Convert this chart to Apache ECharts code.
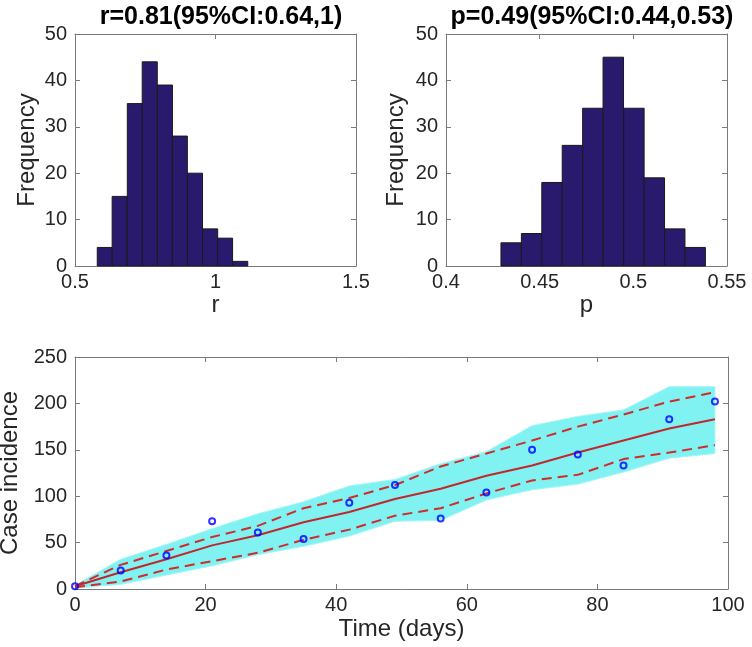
<!DOCTYPE html>
<html>
<head>
<meta charset="utf-8">
<script src="https://cdn.jsdelivr.net/npm/echarts@6/dist/echarts.min.js"></script>
<style>html,body{margin:0;padding:0;background:#fff}#c{width:752px;height:647px}</style>
</head>
<body>
<div id="c"></div>
<script>
// ---- data ----
const rTitle = 'r=0.81(95%CI:0.64,1)';
const pTitle = 'p=0.49(95%CI:0.44,0.53)';
const rBinCenters = [0.606, 0.659, 0.713, 0.766, 0.820, 0.873, 0.927, 0.981, 1.034, 1.088];
const rCounts     = [4, 15, 35, 44, 39, 28, 20, 8, 6, 1];
const rBinWidth   = 0.0536;
const pBinCenters = [0.4348, 0.4457, 0.4566, 0.4675, 0.4784, 0.4893, 0.5003, 0.5112, 0.5221, 0.5330];
const pCounts     = [5, 7, 18, 26, 34, 45, 34, 19, 8, 4];
const pBinWidth   = 0.01092;

const days      = [0, 7, 14, 21, 28, 35, 42, 49, 56, 63, 70, 77, 84, 91, 98];
const observed  = [3, 20, 36, 73, 61, 54, 93, 112, 76, 104, 150, 145, 133, 183, 202];
const meanFit   = [3, 18, 32, 47, 58, 72, 83, 97, 108, 122, 133, 147, 160, 173, 183];
const upper95   = [3, 26, 41, 56, 68, 87, 98, 112, 132, 146, 160, 175, 188, 202, 212];
const lower95   = [2, 8, 21, 30, 39, 53, 64, 79, 87, 103, 117, 123, 140, 147, 155];
const simMax    = [4, 32, 48, 65, 81, 94, 111, 118, 135, 148, 176, 186, 193, 218, 218];
const simMin    = [1, 5, 15, 25, 37, 46, 57, 73, 74, 96, 107, 113, 126, 141, 146];

const rTicks = {min: 0.5, max: 1.5, interval: 0.5};
const pTicks = {min: 0.4, max: 0.55, interval: 0.05};
const freqTicks = {min: 0, max: 50, interval: 10};
const dayTicks = {min: 0, max: 100, interval: 20};
const caseTicks = {min: 0, max: 250, interval: 50};

// ---- styling ----
const FONT = '"Liberation Sans", Arial, Helvetica, sans-serif';
const AXC = '#7a7a7a';
const TXT = '#262626';

function pairX(gridIndex, ticks, name, nameGap, fmt) {
  const base = {
    gridIndex, type: 'value', min: ticks.min, max: ticks.max, interval: ticks.interval,
    splitLine: {show: false},
    axisLine: {show: true, onZero: false, lineStyle: {color: AXC, width: 1}},
    axisTick: {show: true, inside: true, length: 5, lineStyle: {color: AXC}}
  };
  return [
    Object.assign({}, base, {
      position: 'bottom', name, nameLocation: 'middle', nameGap,
      nameTextStyle: {fontSize: 24, color: TXT, fontFamily: FONT},
      axisLabel: {show: true, margin: 6, fontSize: 20, color: TXT, fontFamily: FONT,
        showMinLabel: true, showMaxLabel: true, formatter: fmt}
    }),
    Object.assign({}, base, {position: 'top', axisLabel: {show: false}})
  ];
}
function pairY(gridIndex, ticks, name, nameGap) {
  const base = {
    gridIndex, type: 'value', min: ticks.min, max: ticks.max, interval: ticks.interval,
    splitLine: {show: false},
    axisLine: {show: true, onZero: false, lineStyle: {color: AXC, width: 1}},
    axisTick: {show: true, inside: true, length: 5, lineStyle: {color: AXC}}
  };
  return [
    Object.assign({}, base, {
      position: 'left', name, nameLocation: 'middle', nameGap, nameRotate: 90,
      nameTextStyle: {fontSize: 24, color: TXT, fontFamily: FONT},
      axisLabel: {show: true, margin: 8, fontSize: 20, color: TXT, fontFamily: FONT,
        showMinLabel: true, showMaxLabel: true}
    }),
    Object.assign({}, base, {position: 'right', axisLabel: {show: false}})
  ];
}
const fmt2 = v => String(+v.toFixed(2));

function histSeries(centers, counts, width, xi, yi) {
  return {
    type: 'custom', xAxisIndex: xi, yAxisIndex: yi,
    data: centers.map((c, i) => [c, counts[i]]),
    encode: {x: 0, y: 1},
    renderItem: function (params, api) {
      const c = api.value(0), h = api.value(1);
      const p0 = api.coord([c - width / 2, h]);
      const p1 = api.coord([c + width / 2, 0]);
      return {
        type: 'rect',
        shape: {x: p0[0], y: p0[1], width: p1[0] - p0[0], height: p1[1] - p0[1]},
        style: {fill: '#2a1a6e', stroke: '#1a1a1a', lineWidth: 1}
      };
    }
  };
}

const bandSeries = {
  type: 'custom', xAxisIndex: 4, yAxisIndex: 4, clip: true, silent: true,
  data: [[days[0], simMin[0]]],
  encode: {x: 0, y: 1},
  renderItem: function (params, api) {
    const pts = [];
    for (let i = 0; i < days.length; i++) pts.push(api.coord([days[i], simMax[i]]));
    for (let i = days.length - 1; i >= 0; i--) pts.push(api.coord([days[i], simMin[i]]));
    return {type: 'polygon', shape: {points: pts},
      style: {fill: '#80f2f2', stroke: '#a0f7f7', lineWidth: 1}};
  }
};

function lineSeries(vals, color, type, width) {
  return {
    type: 'line', xAxisIndex: 4, yAxisIndex: 4, symbol: 'none', silent: true,
    data: days.map((d, i) => [d, vals[i]]),
    lineStyle: {color, width, type: type === 'dashed' ? [10, 6] : 'solid'},
    z: 3
  };
}

const gridBase = {outerBoundsMode: 'none', containLabel: false, show: false};

const option = {
  animation: false,
  backgroundColor: '#ffffff',
  title: [
    {text: rTitle, left: 216, top: 0, textAlign: 'center',
      textStyle: {fontSize: 25, fontWeight: 'bold', color: '#000', fontFamily: FONT}},
    {text: pTitle, left: 587, top: 0, textAlign: 'center',
      textStyle: {fontSize: 25, fontWeight: 'bold', color: '#000', fontFamily: FONT}}
  ],
  grid: [
    Object.assign({left: 75, top: 34, width: 281, height: 232}, gridBase),
    Object.assign({left: 446, top: 34, width: 281, height: 232}, gridBase),
    Object.assign({left: 75, top: 357, width: 653, height: 232}, gridBase)
  ],
  xAxis: [
    ...pairX(0, rTicks, 'r', 25, fmt2),
    ...pairX(1, pTicks, 'p', 25, fmt2),
    ...pairX(2, dayTicks, 'Time (days)', 28)
  ],
  yAxis: [
    ...pairY(0, freqTicks, 'Frequency', 36),
    ...pairY(1, freqTicks, 'Frequency', 38),
    ...pairY(2, caseTicks, 'Case incidence', 48)
  ],
  series: [
    histSeries(rBinCenters, rCounts, rBinWidth, 0, 0),
    histSeries(pBinCenters, pCounts, pBinWidth, 2, 2),
    bandSeries,
    lineSeries(upper95, '#d02a2a', 'dashed', 2),
    lineSeries(lower95, '#d02a2a', 'dashed', 2),
    lineSeries(meanFit, '#c1272d', 'solid', 2),
    {
      type: 'scatter', xAxisIndex: 4, yAxisIndex: 4, z: 5,
      data: days.map((d, i) => [d, observed[i]]),
      symbol: 'circle', symbolSize: 6,
      itemStyle: {color: 'rgba(255,255,255,0)', borderColor: '#0000ff', borderWidth: 2}
    }
  ]
};

const chart = echarts.init(document.getElementById('c'), null, {renderer: 'canvas'});
chart.setOption(option);
</script>
</body>
</html>
